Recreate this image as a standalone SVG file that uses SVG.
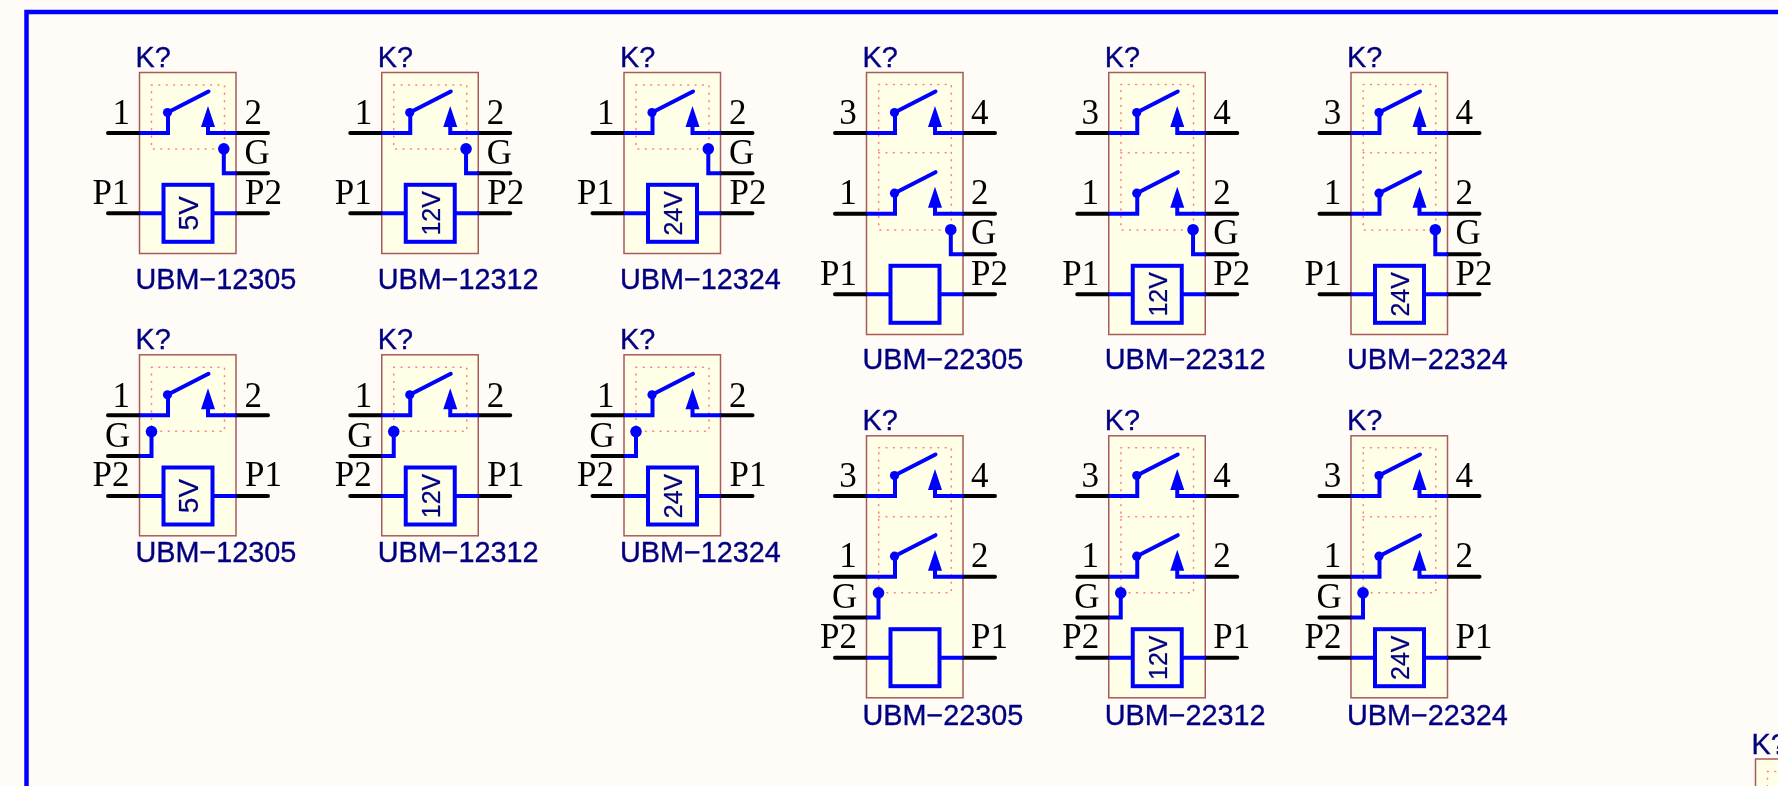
<svg xmlns="http://www.w3.org/2000/svg" width="1778" height="786" viewBox="0 0 1778 786">
<style>
.pin{stroke:#000;stroke-width:4;stroke-linecap:round;fill:none}
.w{stroke:#00f;stroke-width:4;fill:none;stroke-linecap:butt;stroke-linejoin:miter}
.ln{stroke:#00f;stroke-width:4;fill:none;stroke-linecap:round}
.dot{fill:#00f;stroke:none}
.body{fill:#ffffe8;stroke:#a85a5a;stroke-width:1.5}
.dots{fill:none;stroke:#ff8080;stroke-width:1.6;stroke-linecap:round;stroke-dasharray:0.8 6.6}
.des{font-family:"Liberation Sans",Arial,sans-serif;font-size:28.8px;fill:#000080;stroke:#000080;stroke-width:.35}
.val{font-family:"Liberation Sans",Arial,sans-serif;font-size:25px;fill:#000080;text-anchor:middle;stroke:#000080;stroke-width:.25}
.p{font-family:"Liberation Serif","Times New Roman",serif;font-size:35px;fill:#000}
.m{text-anchor:middle}
</style>
<defs>
<filter id="soft" x="0" y="0" width="1778" height="786" filterUnits="userSpaceOnUse"><feGaussianBlur stdDeviation="0.4"/></filter>
<g id="sw">
<path class="pin" d="M-31.5 0H0M96.5 0H128.5"/>
<path class="w" d="M0 0H28.5V-20.5M68.5 -8V0H97"/>
<path class="ln" d="M28 -20.5L69 -41.5"/>
<circle class="dot" cx="28" cy="-20.5" r="4.6"/>
<path class="dot" d="M68.5 -27L75.5 -6H61.5Z"/>
</g>
<g id="coil">
<path class="pin" d="M-31.5 0H0M96.5 0H128.5"/>
<path class="w" d="M0 0H24M73 0H97"/>
<rect class="w" x="24" y="-28.5" width="49" height="57"/>
</g>
<g id="gR">
<path class="pin" d="M96.5 24.5H128.5"/>
<path class="w" d="M84.3 0V24.5H97"/>
<circle class="dot" cx="84.3" cy="0" r="5.8"/>
</g>
<g id="gL">
<path class="pin" d="M-31.5 24.5H0"/>
<path class="w" d="M12 0V24.5H0"/>
<circle class="dot" cx="12" cy="0" r="5.8"/>
</g>
<g id="a1">
<rect class="body" x="139.5" y="72.5" width="96.5" height="181"/>
<rect class="dots" x="151.5" y="85" width="73" height="64"/>
<use href="#sw" x="139.5" y="133"/>
<use href="#gR" x="139.5" y="148.8"/>
<use href="#coil" x="139.5" y="213.3"/>
</g>
<g id="a2">
<rect class="body" x="139.5" y="354.8" width="96.5" height="181"/>
<rect class="dots" x="151.5" y="367.3" width="73" height="64"/>
<use href="#sw" x="139.5" y="415.3"/>
<use href="#gL" x="139.5" y="431.6"/>
<use href="#coil" x="139.5" y="496"/>
</g>
<g id="b1">
<rect class="body" x="866.5" y="72.5" width="96.5" height="262"/>
<rect class="dots" x="878.7" y="84.5" width="72.6" height="145.5"/>
<path class="dots" d="M878.7 152.7H951.3"/>
<use href="#sw" x="866.5" y="133"/>
<use href="#sw" x="866.5" y="213.7"/>
<use href="#gR" x="866.5" y="229.7"/>
<use href="#coil" x="866.5" y="294.3"/>
</g>
<g id="b2">
<rect class="body" x="866.5" y="435.8" width="96.5" height="262"/>
<rect class="dots" x="878.7" y="447.7" width="72.6" height="145"/>
<path class="dots" d="M878.7 516.7H951.3"/>
<use href="#sw" x="866.5" y="496"/>
<use href="#sw" x="866.5" y="576.7"/>
<use href="#gL" x="866.5" y="592.9"/>
<use href="#coil" x="866.5" y="657.7"/>
</g>
</defs>
<rect width="1778" height="786" fill="#fffcf7"/>
<g filter="url(#soft)">
<rect x="26.5" y="12" width="1800" height="850" fill="none" stroke="#00f" stroke-width="4.5"/>
<g id="connectors"></g>

<g id="K1" transform="translate(0 0)"><use href="#a1"/>
<text class="des" x="135.5" y="66.7">K?</text><text class="p m" x="121.2" y="124">1</text><text class="p" x="244.5" y="124">2</text><text class="p" x="244.5" y="164">G</text><text class="p" x="92.5" y="204">P1</text><text class="p" x="245" y="204">P2</text>
<text class="val" transform="translate(197.8 213.3) rotate(-90)" style="font-size:28px">5V</text><text class="des" x="135.5" y="288.5">UBM−12305</text></g>
<g id="K2" transform="translate(242.25 0)"><use href="#a1"/>
<text class="des" x="135.5" y="66.7">K?</text><text class="p m" x="121.2" y="124">1</text><text class="p" x="244.5" y="124">2</text><text class="p" x="244.5" y="164">G</text><text class="p" x="92.5" y="204">P1</text><text class="p" x="245" y="204">P2</text>
<text class="val" transform="translate(197.3 213.3) rotate(-90)">12V</text><text class="des" x="135.5" y="288.5">UBM−12312</text></g>
<g id="K3" transform="translate(484.5 0)"><use href="#a1"/>
<text class="des" x="135.5" y="66.7">K?</text><text class="p m" x="121.2" y="124">1</text><text class="p" x="244.5" y="124">2</text><text class="p" x="244.5" y="164">G</text><text class="p" x="92.5" y="204">P1</text><text class="p" x="245" y="204">P2</text>
<text class="val" transform="translate(197.3 213.3) rotate(-90)">24V</text><text class="des" x="135.5" y="288.5">UBM−12324</text></g>

<g id="K4" transform="translate(0 0)"><use href="#a2"/>
<text class="des" x="135.5" y="349">K?</text><text class="p m" x="121.2" y="406.7">1</text><text class="p" x="244.5" y="406.7">2</text><text class="p" x="105" y="446.7">G</text><text class="p" x="92.5" y="485.7">P2</text><text class="p" x="245" y="485.7">P1</text>
<text class="val" transform="translate(197.8 496) rotate(-90)" style="font-size:28px">5V</text><text class="des" x="135.5" y="561.5">UBM−12305</text></g>
<g id="K5" transform="translate(242.25 0)"><use href="#a2"/>
<text class="des" x="135.5" y="349">K?</text><text class="p m" x="121.2" y="406.7">1</text><text class="p" x="244.5" y="406.7">2</text><text class="p" x="105" y="446.7">G</text><text class="p" x="92.5" y="485.7">P2</text><text class="p" x="245" y="485.7">P1</text>
<text class="val" transform="translate(197.3 496) rotate(-90)">12V</text><text class="des" x="135.5" y="561.5">UBM−12312</text></g>
<g id="K6" transform="translate(484.5 0)"><use href="#a2"/>
<text class="des" x="135.5" y="349">K?</text><text class="p m" x="121.2" y="406.7">1</text><text class="p" x="244.5" y="406.7">2</text><text class="p" x="105" y="446.7">G</text><text class="p" x="92.5" y="485.7">P2</text><text class="p" x="245" y="485.7">P1</text>
<text class="val" transform="translate(197.3 496) rotate(-90)">24V</text><text class="des" x="135.5" y="561.5">UBM−12324</text></g>

<g id="K7" transform="translate(0 0)"><use href="#b1"/>
<text class="des" x="862.5" y="66.7">K?</text><text class="p m" x="848" y="123.7">3</text><text class="p" x="971" y="123.7">4</text><text class="p m" x="848" y="204">1</text><text class="p" x="971" y="204">2</text><text class="p" x="971" y="244">G</text><text class="p" x="820" y="285">P1</text><text class="p" x="971" y="285">P2</text>
<text class="des" x="862.5" y="368.5">UBM−22305</text></g>
<g id="K8" transform="translate(242.25 0)"><use href="#b1"/>
<text class="des" x="862.5" y="66.7">K?</text><text class="p m" x="848" y="123.7">3</text><text class="p" x="971" y="123.7">4</text><text class="p m" x="848" y="204">1</text><text class="p" x="971" y="204">2</text><text class="p" x="971" y="244">G</text><text class="p" x="820" y="285">P1</text><text class="p" x="971" y="285">P2</text>
<text class="val" transform="translate(924.5 294.3) rotate(-90)">12V</text><text class="des" x="862.5" y="368.5">UBM−22312</text></g>
<g id="K9" transform="translate(484.5 0)"><use href="#b1"/>
<text class="des" x="862.5" y="66.7">K?</text><text class="p m" x="848" y="123.7">3</text><text class="p" x="971" y="123.7">4</text><text class="p m" x="848" y="204">1</text><text class="p" x="971" y="204">2</text><text class="p" x="971" y="244">G</text><text class="p" x="820" y="285">P1</text><text class="p" x="971" y="285">P2</text>
<text class="val" transform="translate(924.5 294.3) rotate(-90)">24V</text><text class="des" x="862.5" y="368.5">UBM−22324</text></g>

<g id="K10" transform="translate(0 0)"><use href="#b2"/>
<text class="des" x="862.5" y="430">K?</text><text class="p m" x="848" y="486.5">3</text><text class="p" x="971" y="486.5">4</text><text class="p m" x="848" y="567">1</text><text class="p" x="971" y="567">2</text><text class="p" x="832" y="607.5">G</text><text class="p" x="820" y="648.3">P2</text><text class="p" x="971" y="648.3">P1</text>
<text class="des" x="862.5" y="725">UBM−22305</text></g>
<g id="K11" transform="translate(242.25 0)"><use href="#b2"/>
<text class="des" x="862.5" y="430">K?</text><text class="p m" x="848" y="486.5">3</text><text class="p" x="971" y="486.5">4</text><text class="p m" x="848" y="567">1</text><text class="p" x="971" y="567">2</text><text class="p" x="832" y="607.5">G</text><text class="p" x="820" y="648.3">P2</text><text class="p" x="971" y="648.3">P1</text>
<text class="val" transform="translate(924.5 657.7) rotate(-90)">12V</text><text class="des" x="862.5" y="725">UBM−22312</text></g>
<g id="K12" transform="translate(484.5 0)"><use href="#b2"/>
<text class="des" x="862.5" y="430">K?</text><text class="p m" x="848" y="486.5">3</text><text class="p" x="971" y="486.5">4</text><text class="p m" x="848" y="567">1</text><text class="p" x="971" y="567">2</text><text class="p" x="832" y="607.5">G</text><text class="p" x="820" y="648.3">P2</text><text class="p" x="971" y="648.3">P1</text>
<text class="val" transform="translate(924.5 657.7) rotate(-90)">24V</text><text class="des" x="862.5" y="725">UBM−22324</text></g>

<g id="K13">
<text class="des" x="1751.5" y="753.5">K?</text>
<rect class="body" x="1755.5" y="759" width="96.5" height="181"/>
<rect class="dots" x="1767.5" y="771.5" width="73" height="64"/>
</g>
</g>
</svg>
